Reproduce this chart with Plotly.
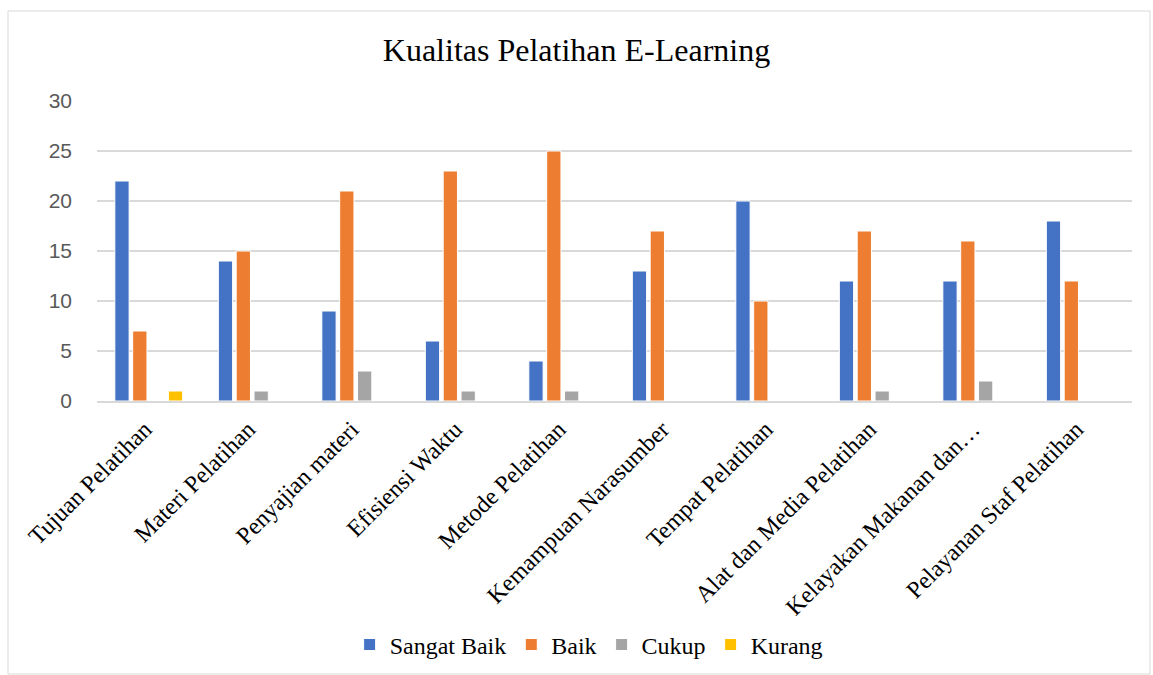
import plotly.graph_objects as go

categories = ["Tujuan Pelatihan", "Materi Pelatihan", "Penyajian materi", "Efisiensi Waktu",
              "Metode Pelatihan", "Kemampuan Narasumber", "Tempat Pelatihan",
              "Alat dan Media Pelatihan", "Kelayakan Makanan dan…", "Pelayanan Staf Pelatihan"]
sangat_baik = [22, 14, 9, 6, 4, 13, 20, 12, 12, 18]
baik = [7, 15, 21, 23, 25, 17, 10, 17, 16, 12]
cukup = [0, 1, 3, 1, 1, 0, 0, 1, 2, 0]
kurang = [1, 0, 0, 0, 0, 0, 0, 0, 0, 0]

series = [("Sangat Baik", sangat_baik, "#4472C4"),
          ("Baik", baik, "#ED7D31"),
          ("Cukup", cukup, "#A5A5A5"),
          ("Kurang", kurang, "#FFC000")]

serif = "Liberation Serif"
sans = "Liberation Sans"

fig = go.Figure()
for name, vals, col in series:
    fig.add_trace(go.Bar(x=categories, y=vals, name=name,
                         marker=dict(color=col, line=dict(color="white", width=1))))

fig.update_layout(
    width=1153, height=675,
    font=dict(family=serif, color="#000000"),
    paper_bgcolor="white", plot_bgcolor="white",
    margin=dict(l=97, r=21, t=101, b=274, autoexpand=False),
    barmode="group", bargap=0.31, bargroupgap=0.2,
    title=dict(text="Kualitas Pelatihan E-Learning", x=0.5, xanchor="center",
               y=1 - 50 / 675, yanchor="middle",
               font=dict(family=serif, size=32, color="#000000")),
    legend=dict(orientation="h", x=0.475, xanchor="center", y=-0.813, yanchor="middle",
                font=dict(family=serif, size=24, color="#000000"),
                traceorder="normal", itemwidth=30),
    xaxis=dict(tickangle=-45, tickfont=dict(family=serif, size=24, color="#000000"),
               showline=True, linecolor="#D9D9D9", linewidth=1.5, ticks="",
               showgrid=False, automargin=False, ticklabelshift=-4, ticklabelstandoff=3),
    yaxis=dict(range=[0, 30], dtick=5, tickfont=dict(family=sans, size=21, color="#595959"),
               showgrid=True, gridcolor="#D9D9D9", gridwidth=1.5, zeroline=False,
               showline=False, ticks="", ticklabelstandoff=24, automargin=False),
    shapes=[dict(type="rect", xref="paper", yref="paper",
                 x0=(8 - 97) / 1035, x1=(1150 - 97) / 1035,
                 y0=(401 - 674) / 300, y1=(401 - 11) / 300,
                 line=dict(color="#D9D9D9", width=1), fillcolor="rgba(0,0,0,0)", layer="below")],
)

post = "document.body.style.margin='0';document.body.style.overflow='hidden';"
fig.write_html("out.html", config={"displayModeBar": False}, post_script=post)
